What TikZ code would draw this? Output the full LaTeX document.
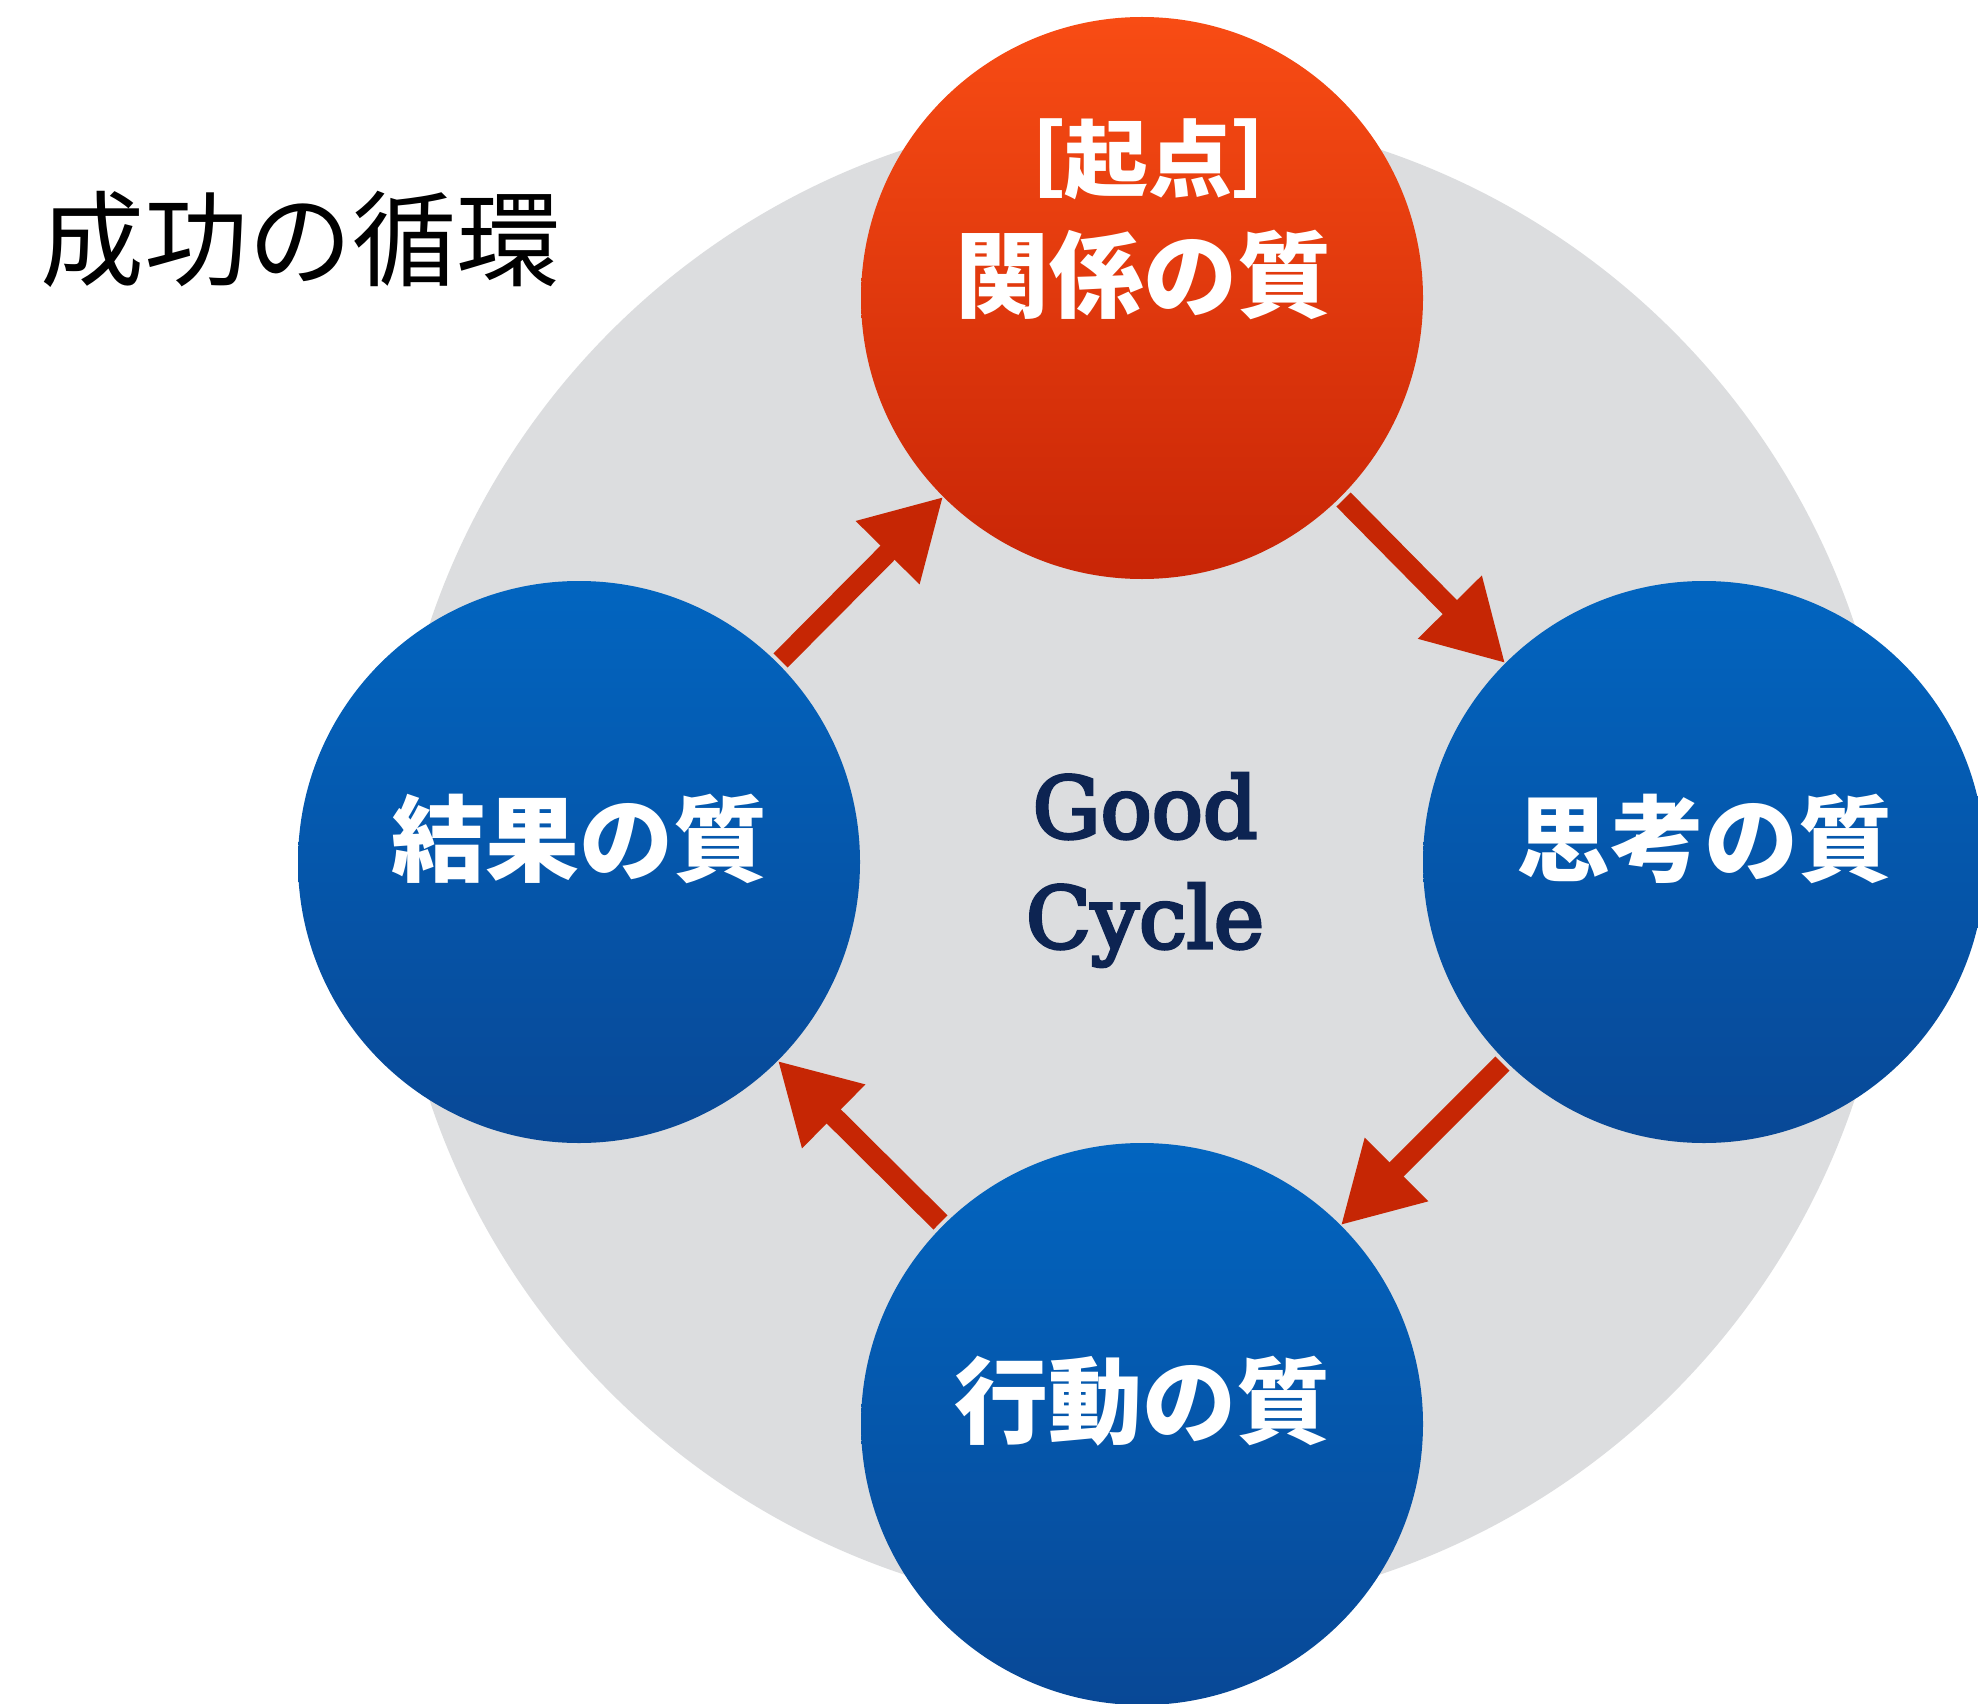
\documentclass[tikz,border=0pt]{standalone}
\usepackage{fontspec}
\newfontfamily\jp{Noto Sans CJK JP}
\newfontfamily\gcfont{DejaVu Serif}[FakeBold=4]
\usetikzlibrary{arrows.meta,calc}
\definecolor{redtop}{HTML}{F84C14}
\definecolor{redbot}{HTML}{C82506}
\definecolor{bluetop}{HTML}{0265C0}
\definecolor{bluebot}{HTML}{084896}
\definecolor{bggray}{HTML}{DCDDDF}
\definecolor{arrred}{HTML}{C62604}
\definecolor{navy}{HTML}{0D2452}
\tikzset{
  bigcircle/.style={circle, minimum size=562pt, inner sep=0pt, outer sep=0pt},
  redcircle/.style={bigcircle, top color=redtop, bottom color=redbot},
  bluecircle/.style={bigcircle, top color=bluetop, bottom color=bluebot},
  qlabel/.style={text=white, font=\jp\bfseries\fontsize{94}{110}\selectfont, inner sep=0pt},
  arr/.style={draw=arrred, line width=20pt, -{Triangle[length=79pt,width=84pt]}, shorten <=4pt},
}
\begin{document}
\begin{tikzpicture}[x=1pt,y=-1pt]
\useasboundingbox (0,0) rectangle (1978,1704);
\clip (0,0) rectangle (1978,1704);
\fill[white] (0,0) rectangle (1978,1704);
\node[circle, fill=bggray, minimum size=1502pt, inner sep=0pt, outer sep=0pt] (ring) at (1142,862) {};
\node[redcircle] (top) at (1142,298) {};
\node[bluecircle] (left) at (579,862) {};
\node[bluecircle] (right) at (1704,862) {};
\node[bluecircle] (bottom) at (1142,1424) {};
\draw[arr] (top.-45) -- (right.135);
\draw[arr] (right.-135) -- (bottom.45);
\draw[arr] (bottom.135) -- (left.-45);
\draw[arr] (left.45) -- (top.-135);
\node[qlabel, font=\jp\bfseries\fontsize{84}{100}\selectfont] (kiten) at (1148,159) {［起点］};
\node[qlabel] (ltop) at (1143,275) {関係の質};
\node[qlabel] (lleft) at (579,839) {結果の質};
\node[qlabel] (lright) at (1704,839) {思考の質};
\node[qlabel] (lbottom) at (1142,1401) {行動の質};
\node[text=navy, font=\gcfont\fontsize{85}{110}\selectfont, align=center, inner sep=0pt] (good) at (1145,870) {Good\\Cycle};
\node[text=black, font=\jp\fontsize{104}{120}\selectfont, inner sep=0pt] (title) at (300,239) {成功の循環};
\end{tikzpicture}
\end{document}
